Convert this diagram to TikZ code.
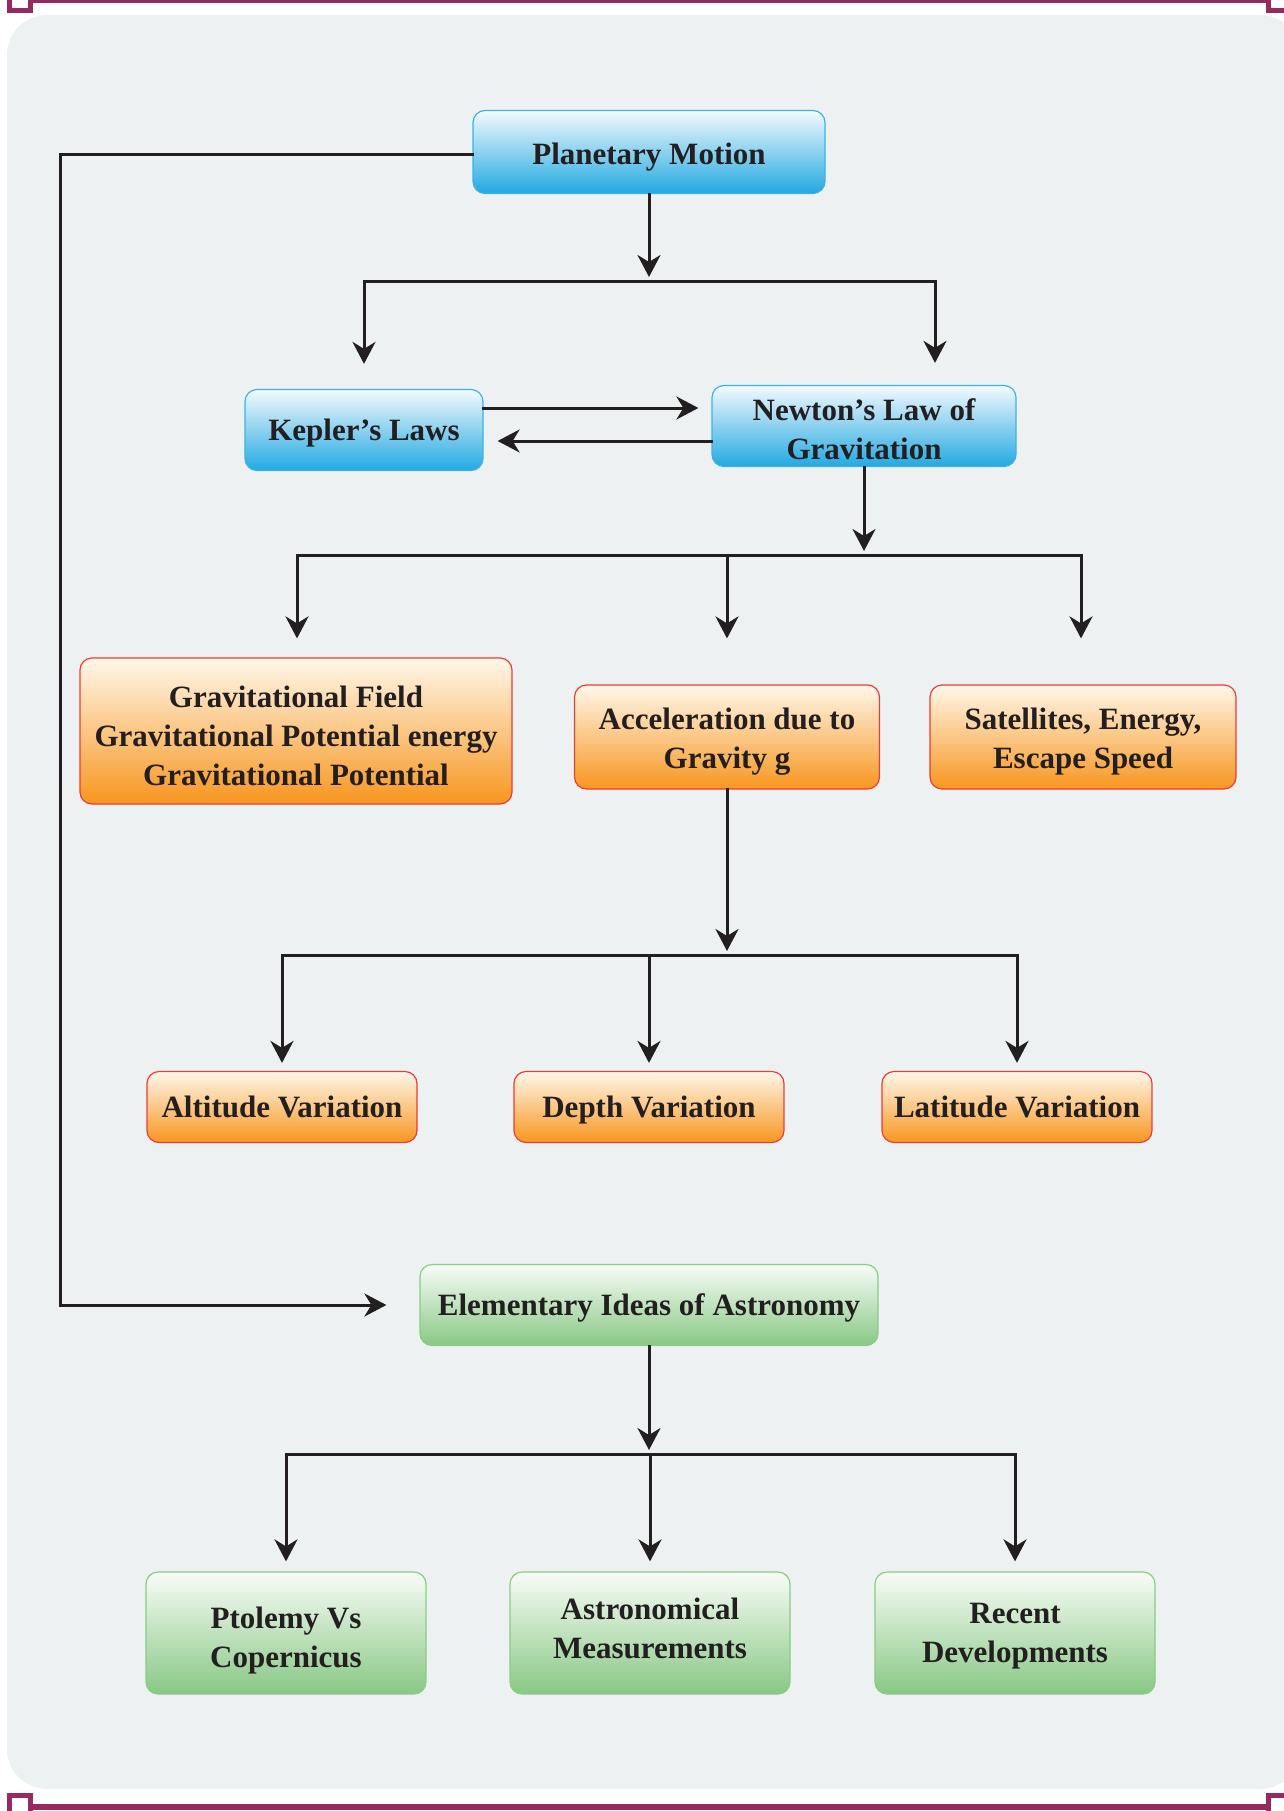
\documentclass[tikz,border=0pt]{standalone}
\usepackage{fontspec}
\setmainfont{Liberation Serif}
\usetikzlibrary{arrows.meta}

\definecolor{framecol}{HTML}{962A60}
\definecolor{panelcol}{HTML}{EDF1F2}
\definecolor{inkcol}{HTML}{231F20}
\definecolor{bluetop}{HTML}{F4FAFE}
\definecolor{bluebot}{HTML}{22A9E1}
\definecolor{blueline}{HTML}{3BB3E6}
\definecolor{orangetop}{HTML}{FFF7EA}
\definecolor{orangebot}{HTML}{F7961F}
\definecolor{orangeline}{HTML}{EE3B35}
\definecolor{greentop}{HTML}{F8FCF7}
\definecolor{greenbot}{HTML}{88C884}
\definecolor{greenline}{HTML}{8ACB86}

\tikzset{
	box/.style={rounded corners=12pt, line width=1.2pt, align=center, inner sep=0pt, text depth=0pt,
		font=\fontsize{31}{39}\selectfont\bfseries, text=inkcol},
	bluebox/.style={box, draw=blueline, top color=bluetop, bottom color=bluebot},
	orangebox/.style={box, draw=orangeline, top color=orangetop, bottom color=orangebot},
	greenbox/.style={box, draw=greenline, top color=greentop, bottom color=greenbot},
	link/.style={draw=inkcol, line width=3pt, line cap=rect},
	arr/.style={link, -{Stealth[length=22pt, width=23pt, inset=7pt]}}
}

\begin{document}
\begin{tikzpicture}[x=1pt, y=-1pt]
			\useasboundingbox (0,0) rectangle (1283,1811);
			
			\fill[panelcol, rounded corners=40pt] (7,15) rectangle (1300,1789);
			
			\draw[framecol, line width=3pt] (33,1.5) -- (1266,1.5);
			\draw[framecol, line width=6pt] (33,1807) -- (1266,1807);
			\draw[framecol, line width=5pt, fill=white] (9.5,-12) rectangle (30.5,10.5);
			\draw[framecol, line width=5pt, fill=white] (1268.5,-12) rectangle (1296,10.5);
			\draw[framecol, line width=5.5pt, fill=white] (9.5,1795.5) rectangle (30.5,1830);
			\draw[framecol, line width=5.5pt, fill=white] (1268.5,1795.5) rectangle (1296,1830);
			
			\node[bluebox, minimum width=352pt, minimum height=83pt, text height=26pt] (motion) at (649,152) {Planetary Motion};
			\node[bluebox, minimum width=238pt, minimum height=81pt] (kepler) at (364,430) {Kepler’s Laws};
			\node[bluebox, minimum width=304pt, minimum height=81pt, text height=67pt] (newton) at (864,426) {Newton’s Law of\\Gravitation};
			
			\node[orangebox, minimum width=432pt, minimum height=146pt, text height=108pt] (field) at (296,731)
				{Gravitational Field\\Gravitational Potential energy\\Gravitational Potential};
			\node[orangebox, minimum width=305pt, minimum height=104pt, text height=63pt] (accel) at (727,737) {Acceleration due to\\Gravity g};
			\node[orangebox, minimum width=306pt, minimum height=104pt, text height=63pt] (sat) at (1083,737) {Satellites, Energy,\\Escape Speed};
			
			\node[orangebox, minimum width=270pt, minimum height=71pt] (altitude) at (282,1107) {Altitude Variation};
			\node[orangebox, minimum width=270pt, minimum height=71pt] (depth) at (649,1107) {Depth Variation};
			\node[orangebox, minimum width=270pt, minimum height=71pt] (latitude) at (1017,1107) {Latitude Variation};
			
			\node[greenbox, minimum width=458pt, minimum height=81pt] (astro) at (649,1305) {Elementary Ideas of Astronomy};
			\node[greenbox, minimum width=280pt, minimum height=122pt, text height=69pt] (ptolemy) at (286,1633) {Ptolemy Vs\\Copernicus};
			\node[greenbox, minimum width=280pt, minimum height=122pt, text depth=9pt] (measure) at (650,1633) {Astronomical\\Measurements};
			\node[greenbox, minimum width=280pt, minimum height=122pt] (recent) at (1015,1633) {Recent\\Developments};
			
			\coordinate (split1) at (649,281);
			\coordinate (split1l) at (364,281);
			\coordinate (split1r) at (935,281);
			\coordinate (split2) at (864,555);
			\coordinate (split2l) at (297,555);
			\coordinate (split2r) at (1081,555);
			\coordinate (split3) at (727,955);
			\coordinate (split4) at (649,1454);
			\coordinate (loop) at (60,155);
			
			\draw[arr, shorten >=4pt] (motion) -- (split1);
			\draw[link] (split1l) -- (split1r);
			\draw[arr, shorten >=25pt] (split1l) -- (kepler);
			\draw[arr, shorten >=22pt] (split1r) -- (split1r |- newton.north);
			
			\draw[arr, shorten >=13pt] ([yshift=22pt]kepler.east) -- ([yshift=18pt]newton.west);
			\draw[arr, shorten >=14pt] ([yshift=-15pt]newton.west) -- ([yshift=-11pt]kepler.east);
			
			\draw[arr, shorten >=4pt] (newton) -- (split2);
			\draw[link] (split2l) -- (split2r);
			\draw[arr, shorten >=19pt] (split2l) -- (split2l |- field.north);
			\draw[arr, shorten >=46pt] (split2 -| accel) -- (accel);
			\draw[arr, shorten >=46pt] (split2r) -- (split2r |- sat.north);
			
			\draw[arr, shorten >=4pt] (accel) -- (split3);
			\draw[link] (altitude |- split3) -- (latitude |- split3);
			\draw[arr, shorten >=8pt] (altitude |- split3) -- (altitude);
			\draw[arr, shorten >=8pt] (depth |- split3) -- (depth);
			\draw[arr, shorten >=8pt] (latitude |- split3) -- (latitude);
			
			\draw[arr, shorten >=33pt] ([yshift=-3pt]motion.west) -- (loop) |- (astro);
			
			\draw[arr, shorten >=4pt] (astro) -- (split4);
			\draw[link] (ptolemy |- split4) -- (recent |- split4);
			\draw[arr, shorten >=10pt] (ptolemy |- split4) -- (ptolemy);
			\draw[arr, shorten >=10pt] (measure |- split4) -- (measure);
			\draw[arr, shorten >=10pt] (recent |- split4) -- (recent);
\end{tikzpicture}
\end{document}
